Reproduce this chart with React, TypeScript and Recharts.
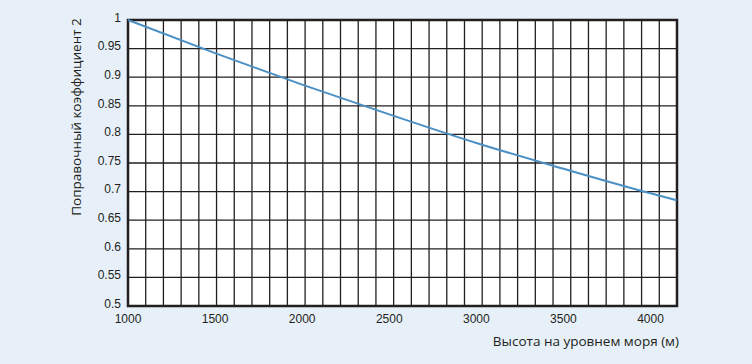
import { LineChart, Line, XAxis, YAxis, CartesianGrid, ReferenceArea } from "recharts";

// altitude (m) and correction factor 2
const altitudes = [1000, 1500, 2000, 2500, 3000, 3500, 4000, 4150];
const factors = [1, 0.942, 0.887, 0.835, 0.785, 0.74, 0.697, 0.685];

const xTicks = [1000, 1500, 2000, 2500, 3000, 3500, 4000];
const yTicks = [0.5, 0.55, 0.6, 0.65, 0.7, 0.75, 0.8, 0.85, 0.9, 0.95, 1];
// the printed grid has 31 equal columns, independent of the label spacing
const gridColumnCount = 31;

const data = altitudes.map((a, i) => ({ alt: a, k: factors[i] }));

const ink = "#231f20";
const tickFont = { fontFamily: "'Liberation Sans', Arial, sans-serif", fontSize: 12, fill: ink };
const titleFont = "'Open Sans', 'Noto Sans', sans-serif";

const fmt = (v: number) => String(Number(v.toFixed(2)));

const gridColumns = ({ offset }: any) =>
  Array.from({ length: gridColumnCount + 1 }, (_, i) => offset.left + (i * offset.width) / gridColumnCount);

export default function App() {
  return (
    <div
      style={{
        position: "fixed",
        left: 0,
        top: 0,
        width: 752,
        height: 364,
        background: "#e7f0f9",
      }}
    >
      <LineChart
        width={752}
        height={364}
        data={data}
        margin={{ top: 20, right: 75, bottom: 0, left: 0 }}
      >
        <CartesianGrid
          verticalCoordinatesGenerator={gridColumns}
          fill="#ffffff"
          fillOpacity={1}
          stroke={ink}
          strokeWidth={1.3}
          strokeOpacity={1}
        />
        <XAxis
          dataKey="alt"
          type="number"
          domain={[1000, 4152]}
          ticks={xTicks}
          interval={0}
          height={58}
          tickSize={0}
          tickMargin={8}
          axisLine={false}
          tick={tickFont}
          label={{
            content: () => (
              <text
                x={679}
                y={346}
                textAnchor="end"
                fill={ink}
                fontFamily={titleFont}
                fontSize={13.5}
              >
                Высота на уровнем моря (м)
              </text>
            ),
          }}
        />
        <YAxis
          type="number"
          domain={[0.5, 1]}
          ticks={yTicks}
          interval={0}
          width={128}
          tickSize={0}
          tickMargin={7}
          axisLine={false}
          tickFormatter={fmt}
          tick={{ ...tickFont, dy: -2.5 }}
          label={{
            content: () => (
              <text
                x={76}
                y={117}
                transform="rotate(-90 76 117)"
                textAnchor="middle"
                dominantBaseline="central"
                fill={ink}
                fontFamily={titleFont}
                fontSize={13.5}
              >
                Поправочный коэффициент 2
              </text>
            ),
          }}
        />
        <ReferenceArea
          x1={1000}
          x2={4152}
          y1={0.5}
          y2={1}
          fill="none"
          stroke={ink}
          strokeWidth={2.5}
          ifOverflow="extendDomain"
        />
        <Line
          type="monotone"
          dataKey="k"
          stroke="#4a90c4"
          strokeWidth={2}
          dot={false}
          isAnimationActive={false}
        />
      </LineChart>
    </div>
  );
}
